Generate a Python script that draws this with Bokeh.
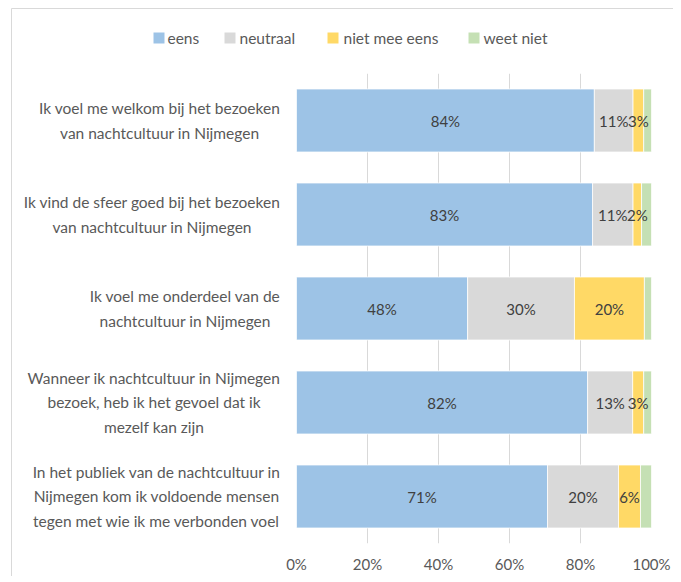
from bokeh.plotting import figure
from bokeh.models import (ColumnDataSource, FactorRange, Range1d,
                          PrintfTickFormatter, FixedTicker)
from bokeh.core.properties import value
from bokeh.embed import file_html
from bokeh.resources import INLINE

statements = [
    "Ik voel me welkom bij het bezoeken\nvan nachtcultuur in Nijmegen",
    "Ik vind de sfeer goed bij het bezoeken\nvan nachtcultuur in Nijmegen",
    "Ik voel me onderdeel van de\nnachtcultuur in Nijmegen",
    "Wanneer ik nachtcultuur in Nijmegen\nbezoek, heb ik het gevoel dat ik\nmezelf kan zijn",
    "In het publiek van de nachtcultuur in\nNijmegen kom ik voldoende mensen\ntegen met wie ik me verbonden voel",
]
eens = [83.9, 83.4, 48.2, 82.0, 70.7]
neutraal = [10.9, 11.4, 30.1, 12.7, 20.0]
niet_mee_eens = [3.0, 2.4, 19.7, 3.1, 6.2]
weet_niet = [2.2, 2.8, 2.0, 2.2, 3.1]
series_names = ["eens", "neutraal", "niet mee eens", "weet niet"]
x_ticks = [0, 20, 40, 60, 80, 100]

colors = ["#9DC3E6", "#D9D9D9", "#FFD966", "#C5E0B4"]
FONT = "Lato"

# ---- layout (pixels)
W, H = 673, 576
FL, FT, FW, FH = 296, 73, 355, 470          # frame left/top/width/height
N = len(statements)
X0, X1 = 0, 100


def px_x(px):   # canvas px -> data x
    return X0 + (px - FL) / FW * (X1 - X0)


def px_y(py):   # canvas px -> synthetic categorical y
    return N - (py - FT) / FH * N


src = ColumnDataSource(dict(cat=statements, s0=eens, s1=neutraal, s2=niet_mee_eens, s3=weet_niet))

p = figure(width=W, height=H, output_backend="svg", toolbar_location=None,
           y_range=FactorRange(factors=list(reversed(statements)), range_padding=0),
           x_range=Range1d(X0, X1),
           min_border_left=FL, min_border_right=W - FL - FW, min_border_top=FT,
           min_border_bottom=H - FT - FH)

rs = p.hbar_stack(["s0", "s1", "s2", "s3"], y="cat", height=0.67, color=colors,
                  line_color="white", line_width=0.75, source=src)

# data labels (not for "weet niet")
lx, ly, lt = [], [], []
for vals, prevs in [(eens, None), (neutraal, [eens]), (niet_mee_eens, [eens, neutraal])]:
    for i, v in enumerate(vals):
        start = sum(pv[i] for pv in prevs) if prevs else 0
        lx.append(start + v / 2)
        ly.append(statements[i])
        lt.append(f"{round(v)}%")
lsrc = ColumnDataSource(dict(x=lx, y=ly, t=lt))
p.text(x="x", y="y", text="t", source=lsrc, text_align="center", text_baseline="middle",
       text_font=value(FONT), text_font_size="15px", text_color="#404040")

# category labels: right-anchored block, centred lines
csrc = ColumnDataSource(dict(x=[X0] * N, y=statements, t=statements))
p.text(x="x", y="y", text="t", source=csrc, x_offset=-16, anchor="center_right",
       text_align="center", text_baseline="middle", text_line_height=1.37,
       text_font=value(FONT), text_font_size="15.5px", text_color="#595959", level="overlay")

# legend row above the plot area (swatches as short thick lines)
swatch_px = [153, 224, 327, 468]
SW = 11
label_px = [167, 239, 343, 483]
leg_y = px_y(37.5)
for sx, c in zip(swatch_px, colors):
    p.line(x=[px_x(sx), px_x(sx + SW)], y=[leg_y, leg_y], line_width=SW,
           line_color=c, line_cap="butt", level="overlay")
p.text(x=[px_x(v) for v in label_px], y=[leg_y] * 4, text=series_names,
       text_align="left", text_baseline="middle", text_font=value(FONT),
       text_font_size="15.5px", text_color="#595959", level="overlay")

# chart-area border (left and top edges)
p.segment(x0=[px_x(11), px_x(11)], y0=[px_y(8), px_y(8)],
          x1=[px_x(W + 10), px_x(11)], y1=[px_y(8), px_y(H + 10)],
          line_color="#D9D9D9", line_width=1, level="overlay")

p.xaxis.ticker = FixedTicker(ticks=x_ticks)
p.xaxis.formatter = PrintfTickFormatter(format="%d%%")
p.xaxis.axis_line_color = None
p.xaxis.major_tick_line_color = None
p.xaxis.minor_tick_line_color = None
p.xaxis.major_label_text_font = FONT
p.xaxis.major_label_text_font_size = "15px"
p.xaxis.major_label_text_color = "#595959"
p.xaxis.major_label_standoff = 5
p.yaxis.visible = False

p.xgrid.grid_line_color = "#D9D9D9"
p.ygrid.grid_line_color = None
p.outline_line_color = None

open("out.html", "w").write(file_html(p, INLINE))
